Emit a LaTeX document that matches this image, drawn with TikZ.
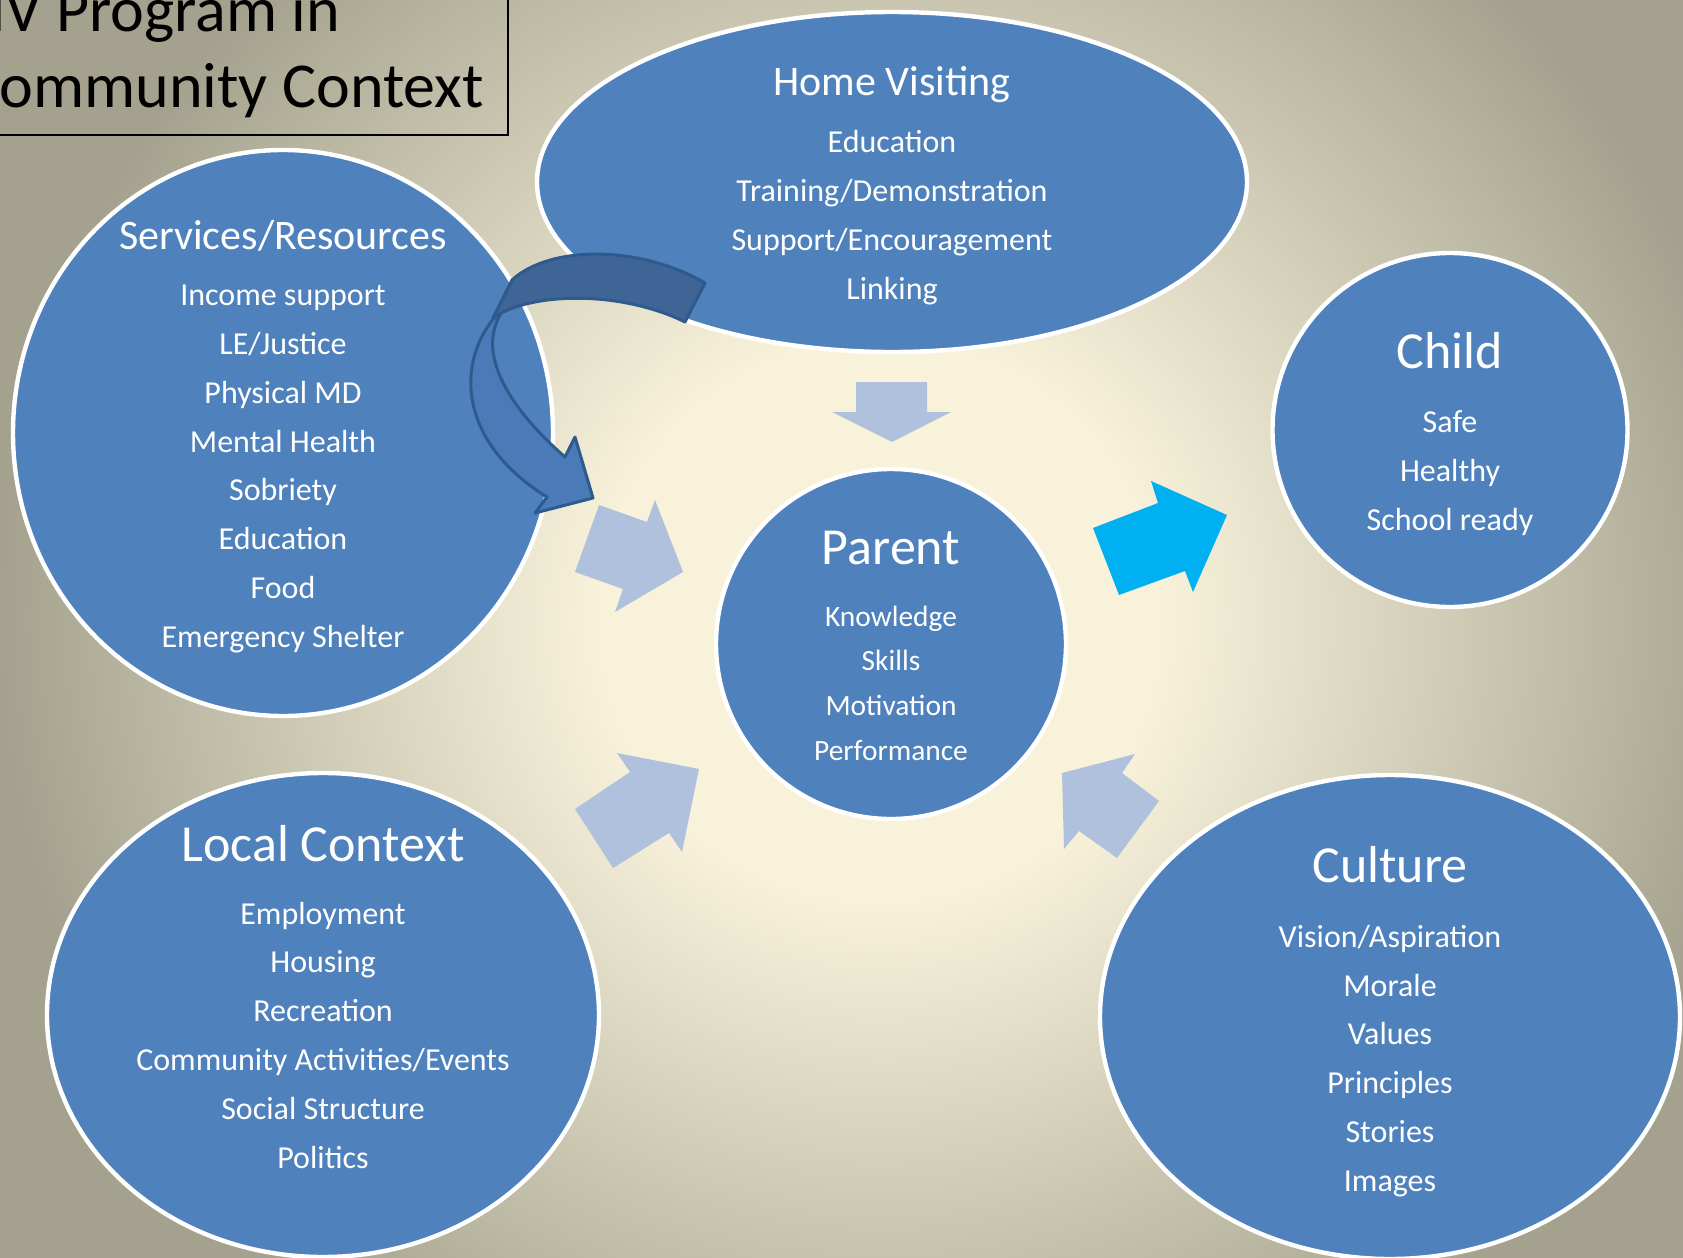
\documentclass[tikz,border=0pt]{standalone}
\usepackage{fontspec}
\setmainfont{Carlito}
\usetikzlibrary{shapes.geometric}
\definecolor{hvblue}{HTML}{4F81BD}
\definecolor{palearrow}{HTML}{B0C1DE}
\definecolor{cyanarrow}{HTML}{00B0F0}
\definecolor{bandtop}{HTML}{3E6596}
\definecolor{bandlow}{HTML}{4A7BB8}
\definecolor{bandline}{HTML}{2F5A8D}
\definecolor{bgin}{HTML}{F8F2DB}
\definecolor{bgout}{HTML}{A4A28E}
\pgfdeclareradialshading{hvback}{\pgfpoint{0bp}{0bp}}{color(0bp)=(bgin); color(7bp)=(bgin); color(22bp)=(bgout); color(50bp)=(bgout)}

\begin{document}
\begin{tikzpicture}[x=0.5pt,y=-0.5pt,
  bubble/.style={ellipse,fill=hvblue,draw=white,line width=2.2pt,inner sep=0pt},
  head/.style={text=white,font=\fontsize{26}{31}\selectfont},
  smallhead/.style={text=white,font=\fontsize{21}{25}\selectfont},
  items/.style={text=white,align=center,font=\fontsize{16}{24.5}\selectfont},
  blockarrow/.style={fill=palearrow}]
\useasboundingbox (0,0) rectangle (1683,1258);
\clip (0,0) rectangle (1683,1258);
\shade[shading=hvback] (-120,-380) rectangle (1880,1620);
% title box, cut at the page edge
\draw[line width=1pt] (-20,-20) rectangle (508,135);
\node[anchor=base west,inner sep=0pt,font=\fontsize{32}{38}\selectfont] (ttlA) at (-35,32) {HV Program in};
\node[anchor=base west,inner sep=0pt,font=\fontsize{32}{38}\selectfont] (ttlB) at (-35,107) {Community Context};
% the six bubbles
\node[bubble,minimum width=355pt,minimum height=170pt] (home) at (892,182) {};
\node[bubble,minimum width=270pt,minimum height=283pt] (serv) at (283,433) {};
\node[bubble,minimum width=177.5pt,minimum height=177pt] (child) at (1450,430) {};
\node[bubble,minimum width=175pt,minimum height=175pt] (parent) at (891,644) {};
\node[bubble,minimum width=276pt,minimum height=242pt] (local) at (323,1015) {};
\node[bubble,minimum width=290pt,minimum height=242pt] (culture) at (1390,1017) {};
% curved arrow
\filldraw[fill=bandlow,draw=bandline,line width=1.5pt,line join=round] (495,317) .. controls (458,360) and (455,440) .. (547,497) -- (535,513) -- (593,498) -- (575,437) -- (565,457) .. controls (500,400) and (470,340) .. (512,300) -- cycle;
\filldraw[fill=bandtop,draw=bandline,line width=1.5pt,line join=round] (705,283) .. controls (640,245) and (550,245) .. (512,280) -- (493,318) .. controls (530,292) and (620,290) .. (685,322) -- cycle;
% block arrows
\fill[blockarrow] (856,382) -- (927,382) -- (927,412) -- (951,412) -- (892,442) -- (832,412) -- (856,412) -- cycle;
\fill[blockarrow] (599,505) -- (647,522) -- (655,500) -- (683,572) -- (615,612) -- (623,589) -- (575,572) -- cycle;
\fill[blockarrow] (575,809) -- (630,772) -- (617,753) -- (699,769) -- (682,852) -- (669,833) -- (613,868) -- cycle;
\fill[blockarrow] (1062,773) -- (1135,754) -- (1122,773) -- (1159,801) -- (1117,858) -- (1079,831) -- (1064,849) -- cycle;
\fill[cyanarrow] (1093,528) -- (1158,503) -- (1151,481) -- (1227,515) -- (1193,592) -- (1185,571) -- (1119,595) -- cycle;
% texts
\node[smallhead] (homeT) at (892,85) {Home Visiting};
\node[items] (homeL) at (892,217.5) {Education\\Training/Demonstration\\Support/Encouragement\\Linking};
\node[smallhead] (servT) at (283,236) {Services/Resources};
\node[items,font=\fontsize{16}{24.4}\selectfont] (servL) at (283,469) {Income support\\LE/Justice\\Physical MD\\Mental Health\\Sobriety\\Education\\Food\\Emergency Shelter};
\node[head] (childT) at (1450,351) {Child};
\node[items] (childL) at (1450,473) {Safe\\Healthy\\School ready};
\node[head] (parentT) at (891,548) {Parent};
\node[items,font=\fontsize{14.7}{22.3}\selectfont] (parentL) at (891,683) {Knowledge\\Skills\\Motivation\\Performance};
\node[head] (localT) at (323,844) {Local Context};
\node[items,font=\fontsize{16}{24.4}\selectfont] (localL) at (323,1035) {Employment\\Housing\\Recreation\\Community Activities/Events\\Social Structure\\Politics};
\node[head] (cultureT) at (1390,865) {Culture};
\node[items,font=\fontsize{16}{24.4}\selectfont] (cultureL) at (1390,1061) {Vision/Aspiration\\Morale\\Values\\Principles\\Stories\\Images};
\end{tikzpicture}
\end{document}
